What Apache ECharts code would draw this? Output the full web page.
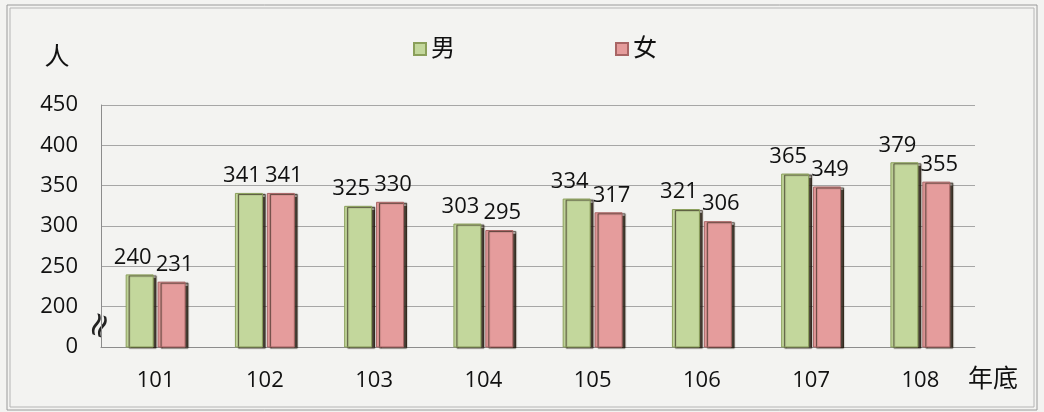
<!DOCTYPE html>
<html>
<head>
<meta charset="utf-8">
<script src="https://cdn.jsdelivr.net/npm/echarts@6/dist/echarts.min.js"></script>
<style>
  html, body { margin: 0; padding: 0; background: #f3f3f1; }
  #chart { width: 1044px; height: 412px; }
</style>
</head>
<body>
<div id="chart"></div>
<script>
// 年底 (民國年)
var years = ['101', '102', '103', '104', '105', '106', '107', '108']
var male = [240, 341, 325, 303, 334, 321, 365, 379]
var female = [231, 341, 330, 295, 317, 306, 349, 355]
// y axis is broken: bottom tick is drawn as 0
var yMin = 150
var yMax = 450
var yStep = 50

var font = '"Open Sans", "Noto Sans CJK TC", sans-serif'

var chart = echarts.init(document.getElementById('chart'))

function barSeries(name, data, fill, edge, dx) {
  return {
    name: name,
    type: 'bar',
    data: data,
    barWidth: 28,
    barGap: '14%',
    itemStyle: {
      color: fill,
      borderColor: edge,
      borderWidth: 1,
      shadowColor: 'rgba(40,30,20,0.85)',
      shadowOffsetX: 3,
      shadowOffsetY: 1,
      shadowBlur: 1
    },
    label: {
      show: true,
      position: 'top',
      distance: 6,
      offset: [dx, 0],
      color: '#111',
      fontSize: 22,
      fontFamily: font
    }
  }
}

chart.setOption({
  backgroundColor: '#f3f3f1',
  animation: false,
  grid: { left: 101, right: 69, top: 105, bottom: 65 },
  legend: {
    top: 32,
    left: 408,
    itemGap: 160,
    itemWidth: 12,
    itemHeight: 12,
    icon: 'rect',
    textStyle: { fontSize: 24, color: '#111', fontFamily: font },
    data: ['男', '女']
  },
  xAxis: {
    type: 'category',
    data: years,
    name: '年底',
    nameLocation: 'end',
    nameGap: -7,
    nameTextStyle: { fontSize: 25, color: '#111', fontFamily: font, verticalAlign: 'top', padding: [20, 0, 0, 0] },
    axisLine: { lineStyle: { color: '#8c8c8c' } },
    axisTick: { show: false },
    axisLabel: { fontSize: 22, color: '#111', margin: 23, fontFamily: font }
  },
  yAxis: {
    type: 'value',
    min: yMin,
    max: yMax,
    interval: yStep,
    name: '人',
    nameLocation: 'end',
    nameGap: 35,
    nameTextStyle: { fontSize: 25, color: '#111', fontFamily: font, padding: [0, 88, 0, 0] },
    axisLine: { show: true, lineStyle: { color: '#8c8c8c' } },
    axisTick: { show: false },
    splitLine: { lineStyle: { color: '#a6a6a6' } },
    axisLabel: {
      fontSize: 22,
      color: '#111',
      margin: 23,
      fontFamily: font,
      formatter: function (v) { return v === yMin ? '0' : String(v) }
    }
  },
  graphic: [
    { type: 'rect', shape: { x: 7, y: 5, width: 1030, height: 405 }, style: { fill: 'none', stroke: '#9a9a9a', lineWidth: 1 } },
    { type: 'rect', shape: { x: 10, y: 8, width: 1024, height: 399 }, style: { fill: 'none', stroke: '#b5b5b5', lineWidth: 1 } },
    { type: 'text', x: 101, y: 326, rotation: Math.PI / 2.6, style: { text: '≈', fontSize: 34, fill: '#222', fontFamily: '"DejaVu Sans", sans-serif', align: 'center', verticalAlign: 'middle' } }
  ],
  series: [
    barSeries('男', male, '#c3d79c', '#8a9f5a', -7),
    barSeries('女', female, '#e59c9c', '#a86565', 3)
  ]
})
</script>
</body>
</html>
